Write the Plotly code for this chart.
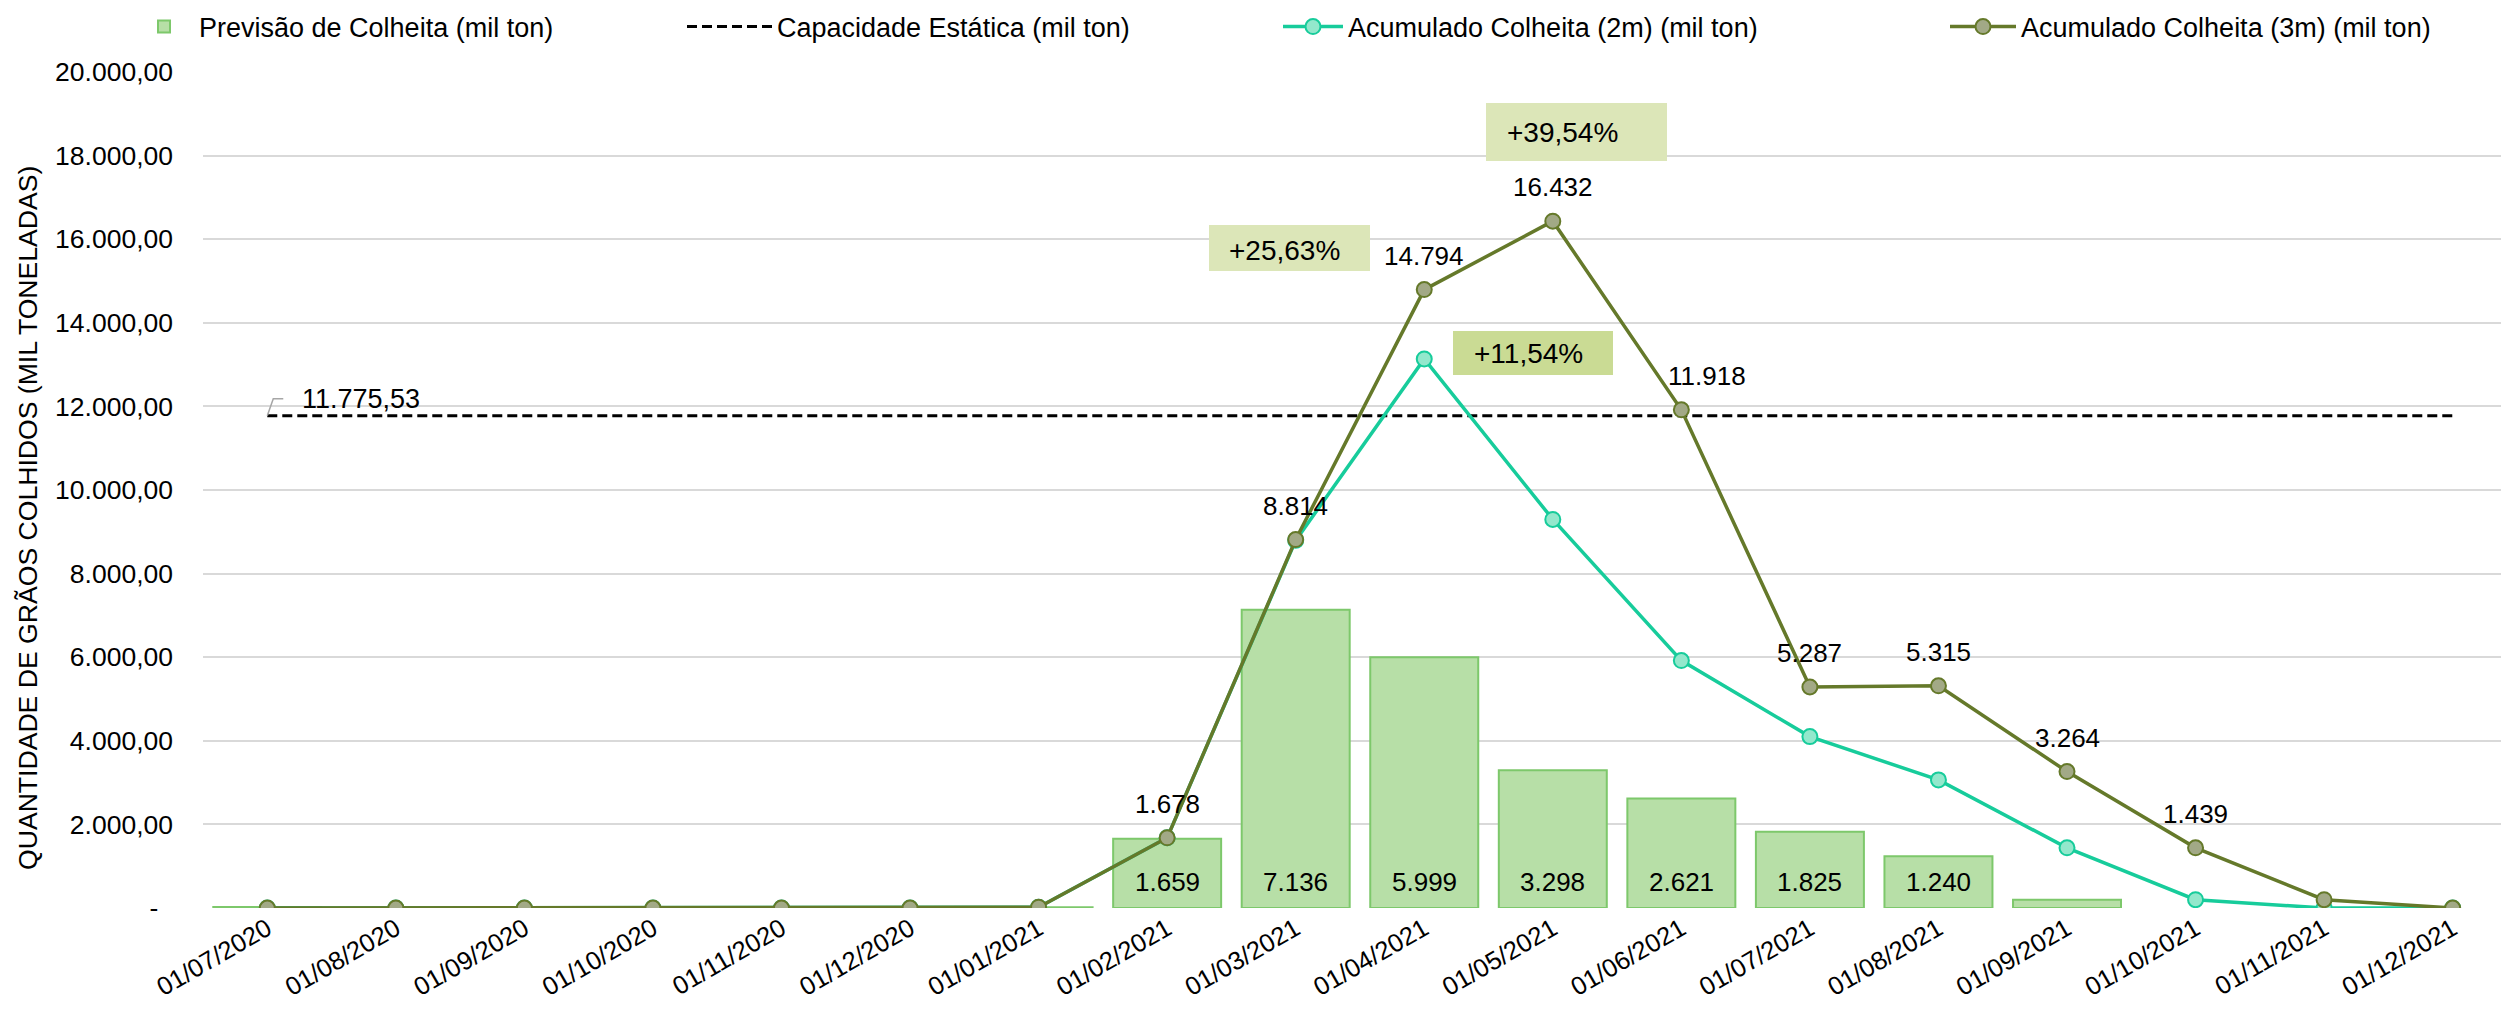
import plotly.graph_objects as go

# ---------------- data ----------------
dates = ["01/07/2020", "01/08/2020", "01/09/2020", "01/10/2020", "01/11/2020", "01/12/2020",
         "01/01/2021", "01/02/2021", "01/03/2021", "01/04/2021", "01/05/2021", "01/06/2021",
         "01/07/2021", "01/08/2021", "01/09/2021", "01/10/2021", "01/11/2021", "01/12/2021"]
previsao = [25, 0, 0, 0, 0, 0, 19, 1659, 7136, 5999, 3298, 2621, 1825, 1240, 199, 0, 0, 0]
capacidade = [11775.53] * len(dates)
acum_2m = [0, 0, 0, 0, 0, 0, 19, 1678, 8795, 13135, 9297, 5919, 4100, 3065, 1439, 199, 0, 0]
acum_3m = [0, 0, 0, 0, 0, 0, 19, 1678, 8814, 14794, 16432, 11918, 5287, 5315, 3264, 1439, 199, 0]
ytick_vals = [0, 2000, 4000, 6000, 8000, 10000, 12000, 14000, 16000, 18000, 20000]
ytick_text = ["-\u00a0\u00a0", "2.000,00", "4.000,00", "6.000,00", "8.000,00", "10.000,00",
              "12.000,00", "14.000,00", "16.000,00", "18.000,00", "20.000,00"]
pct_labels = ["+25,63%", "+39,54%", "+11,54%"]

idx = list(range(len(dates)))
FONT = "Liberation Sans, Arial, sans-serif"

W, H = 2501, 1016
ML, MR, MT, MB = 203, 0, 72, 108
XR = [-0.5, 17.376]
YR = [0, 20000]


def px2x(px):
    return XR[0] + (px - ML) / (W - ML - MR) * (XR[1] - XR[0])


def py2y(py):
    return YR[1] - (py - MT) / (H - MT - MB) * (YR[1] - YR[0])


def fmt(v):
    return f"{int(round(v)):,}".replace(",", ".")


def f(size):
    return dict(size=size, color="black", family=FONT)


fig = go.Figure()

fig.add_bar(x=idx, y=previsao, width=0.84, name="Previsão de Colheita (mil ton)",
            marker=dict(color="#b7dfa7",
                        line=dict(color="#7dc86b", width=[2 if v > 0 else 0 for v in previsao])),
            legend="legend")
fig.add_scatter(x=idx, y=capacidade, mode="lines", name="Capacidade Estática (mil ton)",
                line=dict(color="black", width=3, dash="10px,5px"), legend="legend2")
fig.add_scatter(x=idx, y=acum_2m, mode="lines+markers", name="Acumulado Colheita (2m) (mil ton)",
                line=dict(color="#17cc9b", width=3.5),
                marker=dict(size=15, color="#93e8cc", line=dict(color="#17cc9b", width=2)),
                legend="legend3")
fig.add_scatter(x=idx, y=acum_3m, mode="lines+markers", name="Acumulado Colheita (3m) (mil ton)",
                line=dict(color="#65792a", width=3.5),
                marker=dict(size=15, color="#a2a986", line=dict(color="#65792a", width=2)),
                legend="legend4")

annotations = []
# 3m data labels
for i, v in enumerate(acum_3m):
    if v >= 1000:
        annotations.append(dict(x=i, y=v, text=fmt(v), showarrow=False, yshift=34,
                                xshift=26 if dates[i] == "01/06/2021" else 0, font=f(26)))
# bar labels
for i, v in enumerate(previsao):
    if v >= 1000:
        annotations.append(dict(x=i, y=0, text=fmt(v), showarrow=False, yanchor="middle",
                                yshift=26, font=f(26)))
# capacity label
annotations.append(dict(x=0, y=capacidade[0], text="11.775,53", showarrow=False, xanchor="left",
                        yanchor="middle", xshift=33, yshift=17, font=f(27)))

# percentage boxes (pixel boxes converted to axis coordinates)
boxes = [((1209, 225, 1370, 271), (1284, 250), "#dce6b8"),
         ((1486, 103, 1667, 161), (1562, 132), "#dce6b8"),
         ((1453, 331, 1613, 375), (1528, 353), "#cadb94")]
shapes = []
for k, ((x0, y0, x1, y1), (tx, ty), col) in enumerate(boxes):
    shapes.append(dict(type="rect", xref="x", yref="y", x0=px2x(x0), x1=px2x(x1),
                       y0=py2y(y1), y1=py2y(y0), fillcolor=col, line=dict(width=0), layer="above"))
    annotations.append(dict(x=px2x(tx), y=py2y(ty), text=pct_labels[k], showarrow=False, font=f(28)))

# leader line for the capacity label
cap = capacidade[0]
dx1, dx2 = px2x(ML + 6) - px2x(ML), px2x(ML + 16) - px2x(ML)
dy = py2y(MT) - py2y(MT + 17)
shapes.append(dict(type="path", xref="x", yref="y",
                   path=f"M 0,{cap} L {dx1},{cap + dy} L {dx2},{cap + dy}",
                   line=dict(color="#a6a6a6", width=1.5)))

# y-axis title
annotations.append(dict(xref="paper", yref="paper", x=(28 - ML) / (W - ML - MR),
                        y=(H - MB - 518) / (H - MT - MB),
                        text="QUANTIDADE DE GRÃOS COLHIDOS (MIL TONELADAS)", textangle=-90,
                        showarrow=False, xanchor="center", yanchor="middle", font=f(26.6)))


def leg(xpx, itemwidth):
    return dict(orientation="h", xref="container", yref="container", yanchor="middle",
                xanchor="left", x=xpx / W, y=1 - 27 / H, bgcolor="rgba(0,0,0,0)",
                itemwidth=itemwidth, font=f(27), visible=True)


fig.update_layout(
    width=W, height=H,
    margin=dict(l=ML, r=MR, t=MT, b=MB),
    paper_bgcolor="white", plot_bgcolor="white",
    font=dict(family=FONT, size=26, color="black"),
    showlegend=True,
    xaxis=dict(range=XR, tickmode="array", tickvals=idx, ticktext=dates, tickangle=-30,
               showgrid=False, zeroline=False, showline=False, ticks="", tickfont=f(25.5)),
    yaxis=dict(range=YR, tickmode="array", tickvals=ytick_vals, ticktext=ytick_text,
               showgrid=True, gridcolor="#d9d9d9", gridwidth=2, zeroline=False, showline=False,
               ticks="", ticklabelstandoff=29, tickfont=f(26.5)),
    legend=leg(129, 60),
    legend2=leg(682, 85),
    legend3=leg(1278, 60),
    legend4=leg(1945, 66),
    annotations=annotations,
    shapes=shapes,
)

fig.write_html("out.html", config={"displayModeBar": False},
               post_script="document.body.style.margin='0';document.body.style.overflow='hidden';")
